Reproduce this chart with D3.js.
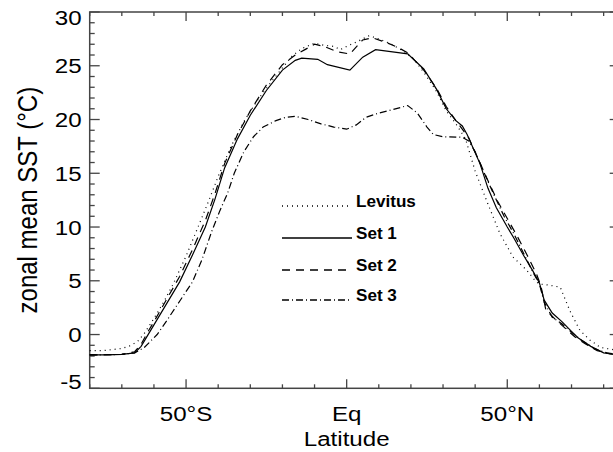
<!DOCTYPE html>
<html>
<head>
<meta charset="utf-8">
<script src="https://cdn.jsdelivr.net/npm/d3@7"></script>
<style>
  body { margin: 0; background: #fff; }
  svg { display: block; font-family: "Liberation Sans", Arial, sans-serif; }
</style>
</head>
<body>
<svg id="chart" width="613" height="452"></svg>
<script>
// zonal mean SST curves, [latitude, degC]
const levitus = [
  [-80, -1.5], [-76, -1.5], [-70, -1.3], [-67, -1.0], [-65, -0.6], [-63, 0.1],
  [-60, 1.5], [-57, 3.0], [-54, 4.7], [-50, 7.3], [-46, 10.2], [-43, 12.4],
  [-40, 14.7], [-36, 17.5], [-32, 19.8], [-28, 21.7], [-24, 23.3], [-20, 24.8],
  [-17, 25.9], [-14, 26.6], [-10, 27.1], [-7, 26.9], [-4, 26.8], [-2, 26.5],
  [0, 26.8], [3, 27.2], [7, 27.8], [10, 27.5], [14, 27.0], [18, 26.3],
  [21, 25.6], [24, 24.4], [28, 22.6], [31, 20.8], [34, 19.6], [37, 18.2],
  [40, 15.2], [43.5, 12.5], [47.7, 9.4], [51.8, 7.2], [56, 6.0], [59, 4.9],
  [60, 4.7], [63, 4.6], [66.5, 4.4], [69.5, 2.2], [72.6, 0.4], [75.7, -0.5],
  [79, -1.2], [85, -1.5]
];
const set1 = [
  [-80, -1.9], [-75, -1.9], [-70, -1.85], [-66, -1.7], [-64, -1.1], [-62, -0.1],
  [-60, 0.9], [-56, 2.9], [-52, 4.9], [-48, 7.4], [-44, 10.0], [-41, 12.6],
  [-38, 15.5], [-34, 18.2], [-30, 20.4], [-25, 22.7], [-20, 24.6], [-16, 25.5],
  [-14, 25.7], [-9, 25.6], [-6, 25.1], [1, 24.6], [5, 25.8], [9, 26.5],
  [19, 26.1], [24, 24.7], [28, 22.8], [31, 21.0], [34, 19.9], [36, 19.4],
  [37.5, 18.6], [41.5, 15.9], [44, 13.6], [46.6, 11.8], [50, 10.0], [52, 9.0],
  [55, 7.4], [58, 5.9], [60, 4.8], [61.5, 3.2], [64, 2.0], [67, 1.2],
  [70, 0.3], [72, -0.3], [76, -1.1], [80, -1.7], [85, -1.9]
];
const set2 = [
  [-80, -1.9], [-70, -1.85], [-66, -1.6], [-64, -0.9], [-62, 0.2], [-60, 1.2],
  [-56, 3.3], [-52, 5.4], [-48, 7.9], [-44, 10.6], [-41, 13.1], [-38, 15.9],
  [-34, 18.6], [-30, 20.8], [-25, 23.2], [-20, 25.1], [-16, 26.0], [-13, 26.5],
  [-10, 27.0], [-7, 26.8], [-3, 26.3], [1, 26.1], [5, 27.4], [8, 27.6],
  [12, 27.2], [16, 26.7], [19, 26.2], [24, 24.6], [28, 22.9], [31, 21.2],
  [34, 19.9], [36, 19.1], [38, 18.3], [41, 16.3], [44, 14.3], [47, 12.4],
  [50, 10.8], [53, 9.2], [56, 7.5], [59, 5.7], [60.5, 4.5], [62, 2.3],
  [65, 1.4], [68, 0.6], [71, -0.2], [74, -0.8], [78, -1.5], [82, -1.8], [85, -1.9]
];
const set3 = [
  [-80, -1.9], [-70, -1.85], [-66, -1.7], [-63, -1.2], [-61, -0.6], [-59, 0.0],
  [-56, 1.3], [-52, 3.1], [-48, 4.9], [-45, 7.0], [-42, 9.6], [-39.5, 11.5],
  [-37, 13.2], [-35, 15.0], [-32, 17.0], [-29, 18.4], [-26, 19.3], [-22, 19.9],
  [-19, 20.2], [-16, 20.3], [-12, 20.0], [-8, 19.6], [-4, 19.3], [0, 19.1],
  [3, 19.5], [6, 20.2], [10, 20.6], [14, 20.9], [19, 21.3], [22, 20.6],
  [25, 19.3], [27, 18.6], [30, 18.4], [36, 18.35], [38, 18.0], [40, 17.0],
  [43, 14.9], [46, 12.9], [49, 11.0], [52, 9.4], [55, 7.6], [58, 5.8],
  [60, 4.7], [61.5, 3.0], [64, 1.6], [67, 1.0], [70, 0.2], [73, -0.5],
  [77, -1.3], [81, -1.7], [85, -1.9]
];

const seriesNames = ["Levitus", "Set 1", "Set 2", "Set 3"];
const seriesData = [levitus, set1, set2, set3];
const seriesDash = ["1,4", null, "8,6", "7,3,1,3"];

const xMajor = [-50, 0, 50];
const xMajorLabels = ["50°S", "Eq", "50°N"];
const yMajor = [-5, 0, 5, 10, 15, 20, 25, 30];

const svg = d3.select("#chart");
const x = d3.scaleLinear().domain([-80, 85]).range([89.7, 619.7]);
const y = d3.scaleLinear().domain([-5, 30]).range([388.3, 12]);

const axisColor = "#444";
const pLeft = x.range()[0], pRight = x.range()[1];
const pTop = y.range()[1], pBottom = y.range()[0];
const stretch = 1.15; // the original lettering is a bit wider than Arial

const xMinor = d3.range(-80, 86, 10).filter((d) => !xMajor.includes(d));
const yMinor = d3.range(-5, 31, 1).filter((d) => !yMajor.includes(d));

// ticks pointing inward on all four sides
function xTicks(vals, len) {
  vals.forEach((v) => {
    svg.append("line").attr("x1", x(v)).attr("x2", x(v))
      .attr("y1", pBottom).attr("y2", pBottom - len)
      .attr("stroke", axisColor).attr("stroke-width", 1.3);
    svg.append("line").attr("x1", x(v)).attr("x2", x(v))
      .attr("y1", pTop).attr("y2", pTop + len)
      .attr("stroke", axisColor).attr("stroke-width", 1.3);
  });
}
function yTicks(vals, len) {
  vals.forEach((v) => {
    svg.append("line").attr("x1", pLeft).attr("x2", pLeft + len)
      .attr("y1", y(v)).attr("y2", y(v))
      .attr("stroke", axisColor).attr("stroke-width", 1.3);
    svg.append("line").attr("x1", pRight).attr("x2", pRight - len)
      .attr("y1", y(v)).attr("y2", y(v))
      .attr("stroke", axisColor).attr("stroke-width", 1.3);
  });
}
xTicks(xMajor, 9);
xTicks(xMinor, 4);
yTicks(yMajor, 10);
yTicks(yMinor, 5);

svg.append("rect")
  .attr("x", pLeft).attr("y", pTop)
  .attr("width", pRight - pLeft).attr("height", pBottom - pTop)
  .attr("fill", "none").attr("stroke", axisColor).attr("stroke-width", 1.5);

// tick labels (end labels are pulled inside the axis range)
function yLabelShift(d) {
  if (d === yMajor[0]) return -7;
  if (d === yMajor[yMajor.length - 1]) return 5;
  return 0;
}
svg.selectAll(".ylab").data(yMajor).join("text")
  .attr("transform", (d) =>
    `translate(${pLeft - 8}, ${y(d) + 7.5 + yLabelShift(d)}) scale(${stretch}, 1)`)
  .attr("text-anchor", "end").attr("font-size", 21)
  .text((d) => d);

svg.selectAll(".xlab").data(xMajor).join("text")
  .attr("transform", (d) => `translate(${x(d)}, ${pBottom + 33}) scale(${stretch}, 1)`)
  .attr("text-anchor", "middle").attr("font-size", 21)
  .text((d, i) => xMajorLabels[i]);

svg.append("text")
  .attr("transform", `translate(${x(0)}, ${pBottom + 58}) scale(${stretch}, 1)`)
  .attr("text-anchor", "middle").attr("font-size", 21)
  .text("Latitude");

svg.append("text")
  .attr("transform", `translate(37, ${(pTop + pBottom) / 2}) scale(${stretch}, 1) rotate(-90)`)
  .attr("text-anchor", "middle").attr("font-size", 24)
  .text("zonal mean SST (°C)");

// curves
const line = d3.line().x((d) => x(d[0])).y((d) => y(d[1]));
const plot = svg.append("g");
seriesData.forEach((data, i) => {
  plot.append("path")
    .datum(data)
    .attr("d", line)
    .attr("fill", "none")
    .attr("stroke", "#000")
    .attr("stroke-width", 1.2)
    .attr("stroke-dasharray", seriesDash[i]);
});

// legend
const legendY = [206, 238, 270, 300];
const legend = svg.selectAll(".legend").data(seriesNames).join("g")
  .attr("transform", (d, i) => `translate(282, ${legendY[i]})`);
legend.append("line")
  .attr("x1", 0).attr("x2", 70)
  .attr("stroke", "#000").attr("stroke-width", 1.3)
  .attr("stroke-dasharray", (d, i) => seriesDash[i]);
legend.append("text")
  .attr("transform", "translate(74, 1) scale(1.07, 1)")
  .attr("font-size", 16).attr("font-weight", "bold")
  .text((d) => d);
</script>
</body>
</html>
